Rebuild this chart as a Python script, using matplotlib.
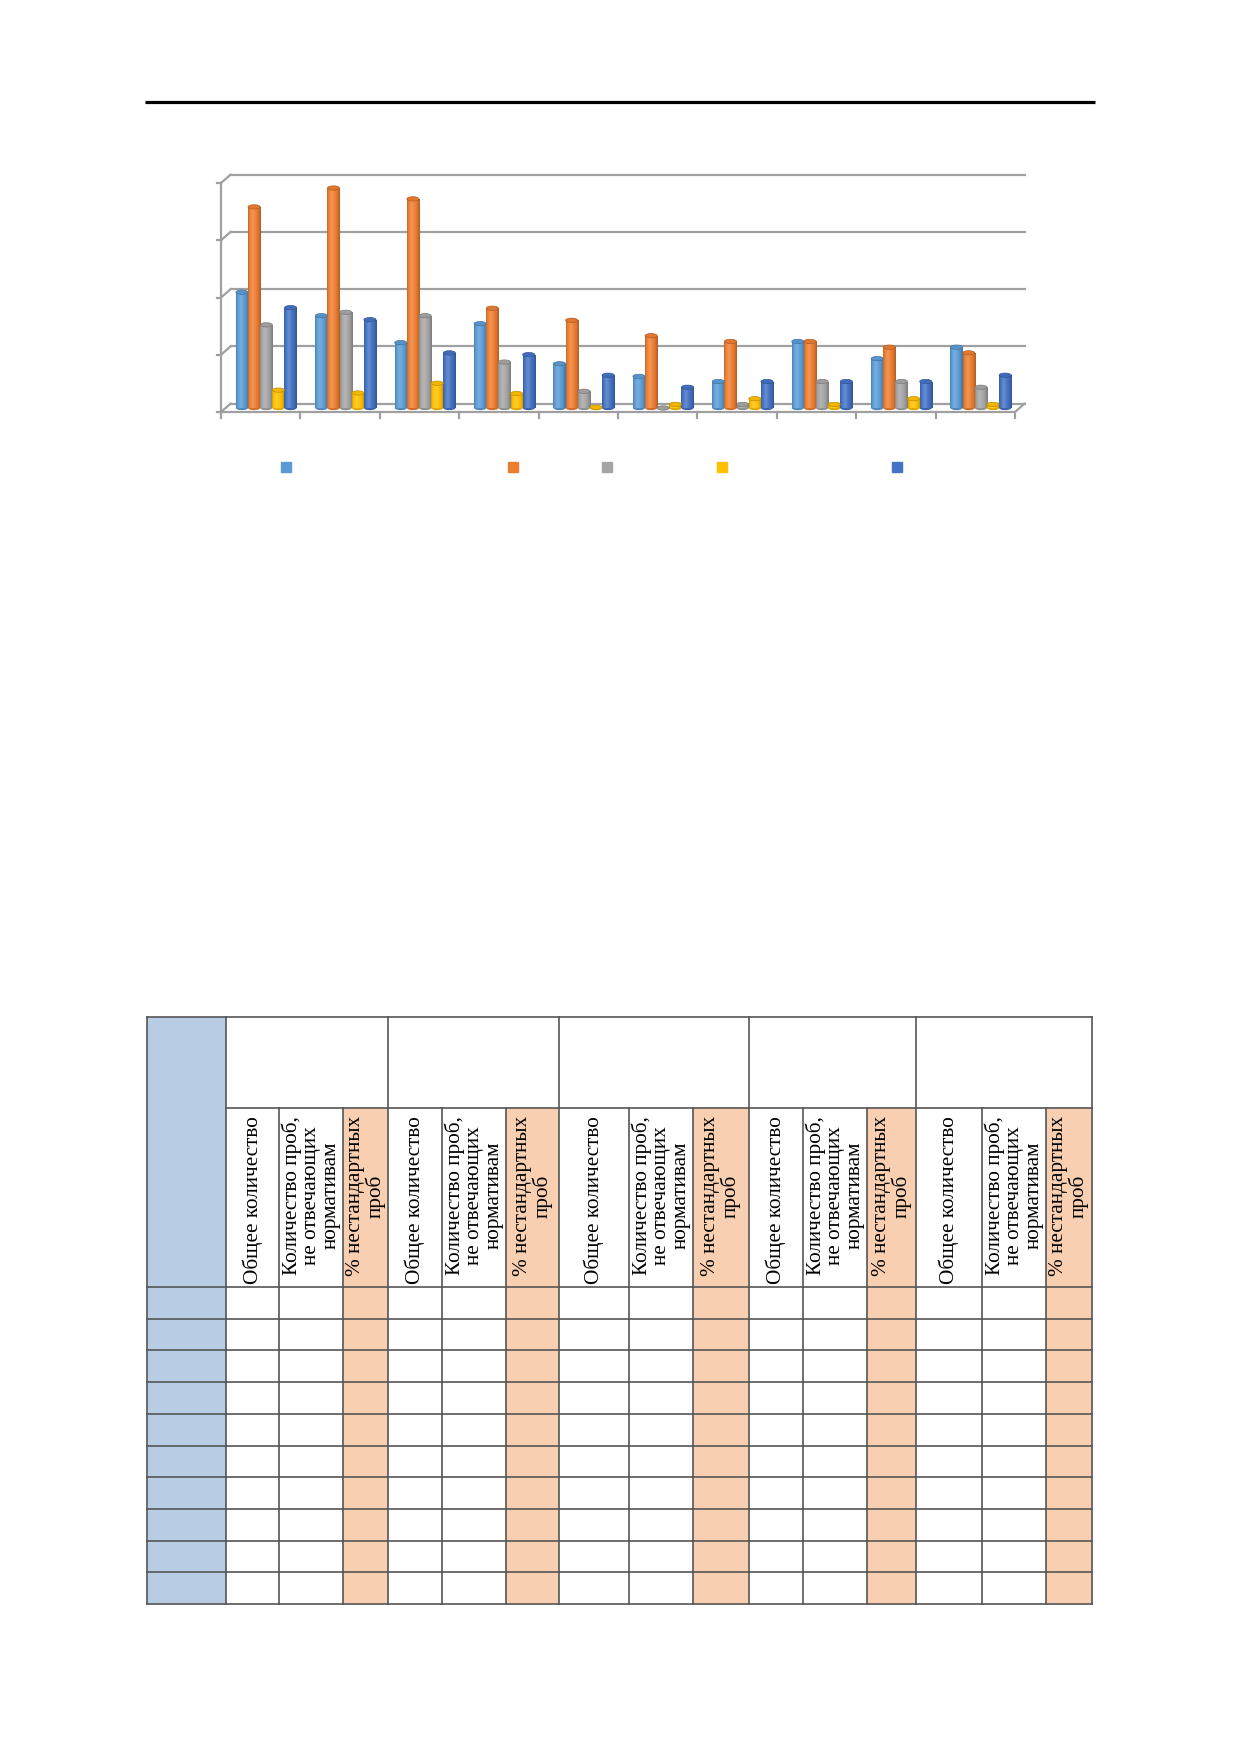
import numpy as np
import matplotlib
matplotlib.use('Agg')
import matplotlib.pyplot as plt
from matplotlib.patches import Ellipse, Rectangle
from matplotlib.colors import to_rgb

# ---------------- data ----------------
categories = ['', '', '', '', '', '', '', '', '', '']          # category labels (blank in source)
series_names = ['', '', '', '', '']                              # legend labels (blank in source)
series_colors = ['#5B9BD5', '#ED7D31', '#A5A5A5', '#FFC000', '#4472C4']
s1 = [20.6, 16.5, 11.8, 15.1, 8.1, 5.9, 5.0, 12.0, 9.0, 11.0]
s2 = [35.5, 38.8, 36.9, 17.8, 15.7, 13.0, 12.0, 12.0, 11.0, 10.0]
s3 = [14.9, 17.1, 16.5, 8.4, 3.3, 0.15, 1.0, 5.0, 5.0, 4.0]
s4 = [3.5, 3.0, 4.7, 2.9, 0.5, 1.0, 2.0, 1.0, 2.0, 1.0]
s5 = [17.9, 15.8, 10.0, 9.7, 6.1, 4.0, 5.0, 5.0, 5.0, 6.1]
series = [s1, s2, s3, s4, s5]
y_ticks = [0, 10, 20, 30, 40]

n_groups = 5
sub_headers = ['Общее количество',
               'Количество проб,\nне отвечающих\nнормативам',
               '% нестандартных\nпроб']
n_rows = 10

# ---------------- figure ----------------
W, H = 1240, 1754
fig = plt.figure(figsize=(W / 100, H / 100), dpi=100)
fig.patch.set_facecolor('white')

pg = fig.add_axes([0, 0, 1, 1])
pg.set_xlim(0, W)
pg.set_ylim(H, 0)
pg.axis('off')

# header rule
pg.plot([145, 1095], [102, 102], color='black', lw=2.3, solid_capstyle='butt')

# ---------------- chart ----------------
ax = fig.add_axes([221 / W, 1 - 412 / H, 794 / W, 229 / H])
ax.axis('off')
NC = len(categories)
YMAX = y_ticks[-1]
DX, DY = 0.12, 1.45
grid_c = '#a0a0a0'
glw = 1.6

for t in y_ticks:
    ax.plot([DX, NC + DX], [t + DY, t + DY], color=grid_c, lw=glw, zorder=1, clip_on=False)
    ax.plot([0, DX], [t, t + DY], color=grid_c, lw=glw, zorder=1, clip_on=False)
    ax.plot([-0.045, 0], [t, t], color=grid_c, lw=glw, zorder=1, clip_on=False)
ax.plot([0, 0], [0, YMAX], color=grid_c, lw=glw, zorder=1, clip_on=False)
ax.plot([0, NC], [0, 0], color=grid_c, lw=glw, zorder=1, clip_on=False)
ax.plot([NC, NC + DX], [0, DY], color=grid_c, lw=glw, zorder=1, clip_on=False)
for i in range(NC + 1):
    ax.plot([i, i], [0, -1.0], color=grid_c, lw=glw, zorder=1, clip_on=False)

BASE = 0.7
bw = 0.153
step = 0.153
capH = 0.75


def shade(c, f):
    c = np.array(to_rgb(c))
    if f <= 1:
        return np.clip(c * f, 0, 1)
    return np.clip(c + (1 - c) * (f - 1) * 1.6, 0, 1)


tt = np.linspace(0, 1, 64)
ff = np.interp(tt, [0, 0.12, 0.38, 0.75, 1], [0.82, 1.0, 1.12, 0.96, 0.75])

x_base = np.arange(NC) + 0.5 + 0.07
for i, (vals, col) in enumerate(zip(series, series_colors)):
    xs = x_base + (i - 2) * step
    hts = [max(v - capH / 2, 0.0) for v in vals]
    bars = ax.bar(xs, hts, width=bw, bottom=BASE, color=col, linewidth=0, zorder=3)
    grad = np.array([[shade(col, f) for f in ff]])
    for p, xc, h in zip(bars.patches, xs, hts):
        x0 = p.get_x()
        ax.add_patch(Ellipse((xc, BASE), bw, capH, facecolor=shade(col, 0.88),
                             edgecolor='none', zorder=2.9))
        if h > 0:
            im = ax.imshow(grad, extent=[x0, x0 + bw, BASE, BASE + h], aspect='auto',
                           interpolation='bilinear', zorder=3.1)
            im.set_clip_path(p)
        ax.add_patch(Ellipse((xc, BASE + h), bw, capH, facecolor=shade(col, 0.95),
                             edgecolor=shade(col, 0.75), lw=0.5, zorder=3.2))

# legend markers (labels blank in source)
leg_x = [0.82, 3.68, 4.86, 6.31, 8.51]
for lx, col in zip(leg_x, series_colors):
    ax.plot([lx], [-9.6], marker='s', ms=7.2, color=col, linestyle='none', clip_on=False)

ax.set_xlim(0, NC)
ax.set_ylim(0, YMAX)

# ---------------- table ----------------
col_x = [147, 226, 279, 343, 388, 442, 506, 559, 629, 693, 749,
         803, 867, 916, 982, 1046, 1092]
t_top, t_sub, t_head = 1017, 1108, 1287
t_bot = 1604
row_y = np.linspace(t_head, t_bot, n_rows + 1)

blue = '#B8CCE4'
orange = '#F8CFB0'
line_c = '#555555'
tlw = 1.2

pg.add_patch(Rectangle((col_x[0], t_top), col_x[1] - col_x[0], t_bot - t_top,
                       facecolor=blue, edgecolor='none', zorder=1))
for g in range(n_groups):
    k = 1 + g * 3 + 2
    pg.add_patch(Rectangle((col_x[k], t_sub), col_x[k + 1] - col_x[k], t_bot - t_sub,
                           facecolor=orange, edgecolor='none', zorder=1))

for j, xv in enumerate(col_x):
    if j == 0 or (j - 1) % 3 == 0:
        pg.plot([xv, xv], [t_top, t_bot], color=line_c, lw=tlw, zorder=2)
    else:
        pg.plot([xv, xv], [t_sub, t_bot], color=line_c, lw=tlw, zorder=2)
pg.plot([col_x[0], col_x[-1]], [t_top, t_top], color=line_c, lw=tlw, zorder=2)
pg.plot([col_x[1], col_x[-1]], [t_sub, t_sub], color=line_c, lw=tlw, zorder=2)
for yv in row_y:
    pg.plot([col_x[0], col_x[-1]], [yv, yv], color=line_c, lw=tlw, zorder=2)

for g in range(n_groups):
    for k, txt in enumerate(sub_headers):
        j = 1 + g * 3 + k
        xc = (col_x[j] + col_x[j + 1]) / 2
        pg.text(xc, 1116, txt, rotation=90, ha='center', va='top',
                multialignment='center', fontsize=15.3,
                family=['Liberation Serif', 'DejaVu Serif'], linespacing=1.02,
                color='black', zorder=3)

fig.savefig('out.png', dpi=100, facecolor='white')
